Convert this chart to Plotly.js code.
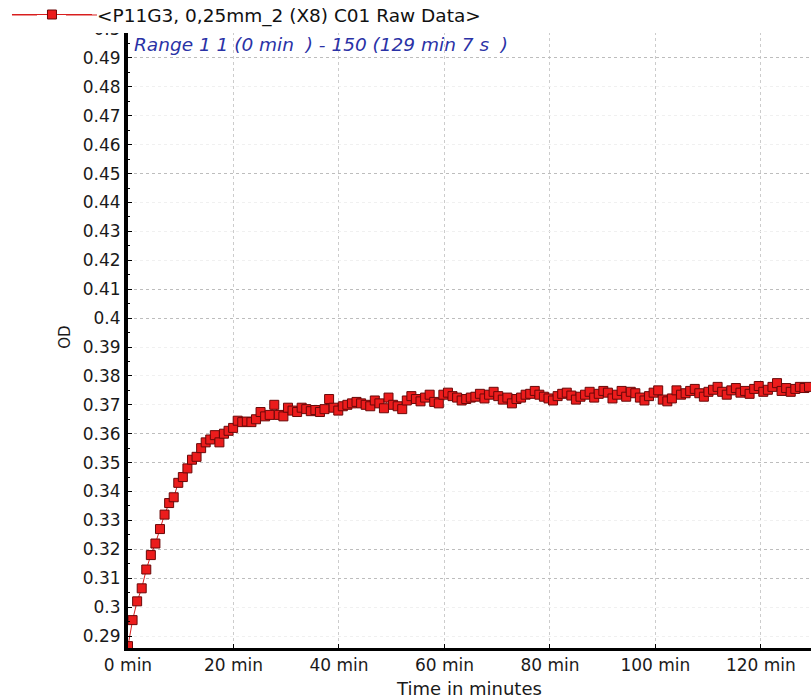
<!DOCTYPE html>
<html>
<head>
<meta charset="utf-8">
<script src="https://cdn.plot.ly/plotly-3.0.1.min.js"></script>
<style>html,body{margin:0;padding:0;background:#fff;}#chart{width:811px;height:699px;}</style>
</head>
<body>
<div id="chart"></div>
<script>
// Sampling: 150 readings from 0 min to 129 min 7 s
const startMin = 0;
const stepMin = 0.8666;

const odValues = [
  0.2865, 0.2955, 0.302, 0.3065, 0.313, 0.318, 0.322, 0.327, 0.332, 0.336,
  0.338, 0.343, 0.345, 0.348, 0.351, 0.352, 0.355, 0.357, 0.358, 0.3595,
  0.357, 0.360, 0.361, 0.362, 0.3645, 0.364, 0.3642, 0.364, 0.365, 0.3675,
  0.366, 0.3665, 0.370, 0.3665, 0.366, 0.369, 0.368, 0.3675, 0.369, 0.3685,
  0.3678, 0.3682, 0.3675, 0.3685, 0.372, 0.369, 0.368, 0.3695, 0.370, 0.3705,
  0.371, 0.3705, 0.370, 0.3695, 0.3715, 0.3705, 0.3688, 0.3725, 0.370, 0.3695,
  0.3685, 0.3715, 0.373, 0.372, 0.3712, 0.3725, 0.3735, 0.371, 0.3705, 0.3735,
  0.3742, 0.373, 0.3725, 0.3715, 0.372, 0.3725, 0.3728, 0.3738, 0.3722, 0.3735,
  0.3745, 0.373, 0.3718, 0.3725, 0.3705, 0.372, 0.3725, 0.3735, 0.3738, 0.3748,
  0.3735, 0.3728, 0.3722, 0.3715, 0.373, 0.3738, 0.3742, 0.3732, 0.3718, 0.3728,
  0.3735, 0.3745, 0.3725, 0.3738, 0.3748, 0.3742, 0.3722, 0.3735, 0.3748, 0.3728,
  0.3745, 0.374, 0.3725, 0.3715, 0.373, 0.3742, 0.375, 0.3718, 0.3712, 0.3722,
  0.375, 0.3735, 0.374, 0.3748, 0.3755, 0.374, 0.3728, 0.3745, 0.3752, 0.3762,
  0.3745, 0.3735, 0.375, 0.3758, 0.3742, 0.3748, 0.3738, 0.3755, 0.3765, 0.3745,
  0.3752, 0.3762, 0.3775, 0.3748, 0.3758, 0.3745, 0.3755, 0.3762, 0.3758, 0.3762
];

const yTickVals = [0.29,0.30,0.31,0.32,0.33,0.34,0.35,0.36,0.37,0.38,0.39,0.40,0.41,0.42,0.43,0.44,0.45,0.46,0.47,0.48,0.49,0.50];
const yTickLabels = ["0.29","0.3","0.31","0.32","0.33","0.34","0.35","0.36","0.37","0.38","0.39","0.4","0.41","0.42","0.43","0.44","0.45","0.46","0.47","0.48","0.49","0.5"];
const xTickVals = [0,20,40,60,80,100,120];
const xTickLabels = ["0 min","20 min","40 min","60 min","80 min","100 min","120 min"];
const strongGridVals = [0.31,0.32,0.35,0.36,0.40,0.41,0.45,0.49];

const seriesName = "&lt;P11G3, 0,25mm_2 (X8) C01 Raw Data&gt;";
const rangeText = "Range 1 1 (0 min  ) - 150 (129 min 7 s  )";

const font = "DejaVu Sans, Verdana, sans-serif";

const traces = [
  {
    type: "scatter", mode: "lines+markers", name: seriesName,
    x0: startMin, dx: stepMin, y: odValues,
    line: {color: "#d81e1e", width: 1},
    marker: {symbol: "square", size: 9, color: "#ec1c1c", line: {color: "#6a0808", width: 1}},
    cliponaxis: true
  },
  {
    type: "scatter", mode: "none", x: [], y: [], yaxis: "y2", showlegend: false, hoverinfo: "skip"
  }
];

const layout = {
  width: 811, height: 699,
  margin: {l: 128, r: 0, t: 26, b: 51, autoexpand: false},
  paper_bgcolor: "#ffffff", plot_bgcolor: "#ffffff",
  font: {family: font, size: 17, color: "#1a1a1a"},
  showlegend: true,
  legend: {x: -0.1772, xanchor: "left", y: 1.0177, yanchor: "middle", yref: "paper",
           itemwidth: 80,
           bgcolor: "rgba(255,255,255,0)", font: {family: font, size: 18.5, color: "#111"},
           borderwidth: 0, tracegroupgap: 0},
  xaxis: {
    range: [0, 129.5], tickvals: xTickVals, ticktext: xTickLabels,
    ticks: "inside", ticklen: 4, tickcolor: "#000", tickwidth: 1,
    showline: true, linecolor: "#000", linewidth: 3,
    showgrid: true, gridcolor: "#cccccc", griddash: "dot", gridwidth: 1,
    zeroline: false, tickfont: {family: font, size: 17, color: "#1a1a1a"},
    title: {text: "Time in minutes", font: {family: font, size: 18, color: "#1a1a1a"}, standoff: 8},
    automargin: false
  },
  yaxis: {
    range: [0.28585, 0.50107], tickvals: yTickVals, ticktext: yTickLabels,
    ticks: "inside", ticklen: 4, tickcolor: "#000", tickwidth: 1,
    minor: {dtick: 0.005, ticks: "inside", ticklen: 2, tickcolor: "#000", showgrid: false},
    showline: true, linecolor: "#000", linewidth: 4,
    showgrid: true, gridcolor: "#f0f0f0", griddash: "dot", gridwidth: 1,
    zeroline: false, tickfont: {family: font, size: 17, color: "#1a1a1a"},
    title: {text: "OD", font: {family: font, size: 15, color: "#1a1a1a"}, standoff: 9},
    automargin: false
  },
  yaxis2: {
    overlaying: "y", range: [0.28585, 0.50107], tickvals: strongGridVals,
    showticklabels: false, ticks: "", showline: false, zeroline: false,
    showgrid: true, gridcolor: "#bdbdbd", griddash: "dot", gridwidth: 1
  },
  shapes: [
    {type: "rect", xref: "paper", yref: "paper", x0: -0.12, x1: 1.0, y0: 0.9887, y1: 1.06,
     fillcolor: "#ffffff", line: {width: 0}, layer: "above"},
    {type: "line", xref: "paper", yref: "paper", x0: -0.1698, x1: -0.1332, y0: 1.0177, y1: 1.0177,
     line: {color: "#d81e1e", width: 1}, layer: "above"},
    {type: "line", xref: "paper", yref: "paper", x0: -0.0908, x1: -0.0454, y0: 1.0177, y1: 1.0177,
     line: {color: "#d81e1e", width: 1}, layer: "above"}
  ],
  annotations: [
    {xref: "paper", yref: "paper", x: 0, xshift: 4, y: 0.971, xanchor: "left", yanchor: "middle",
     text: "<i>" + rangeText + "</i>", showarrow: false,
     font: {family: font, size: 18.5, color: "#2a32a6"}}
  ]
};

Plotly.newPlot("chart", traces, layout, {staticPlot: true, displayModeBar: false});
</script>
</body>
</html>
